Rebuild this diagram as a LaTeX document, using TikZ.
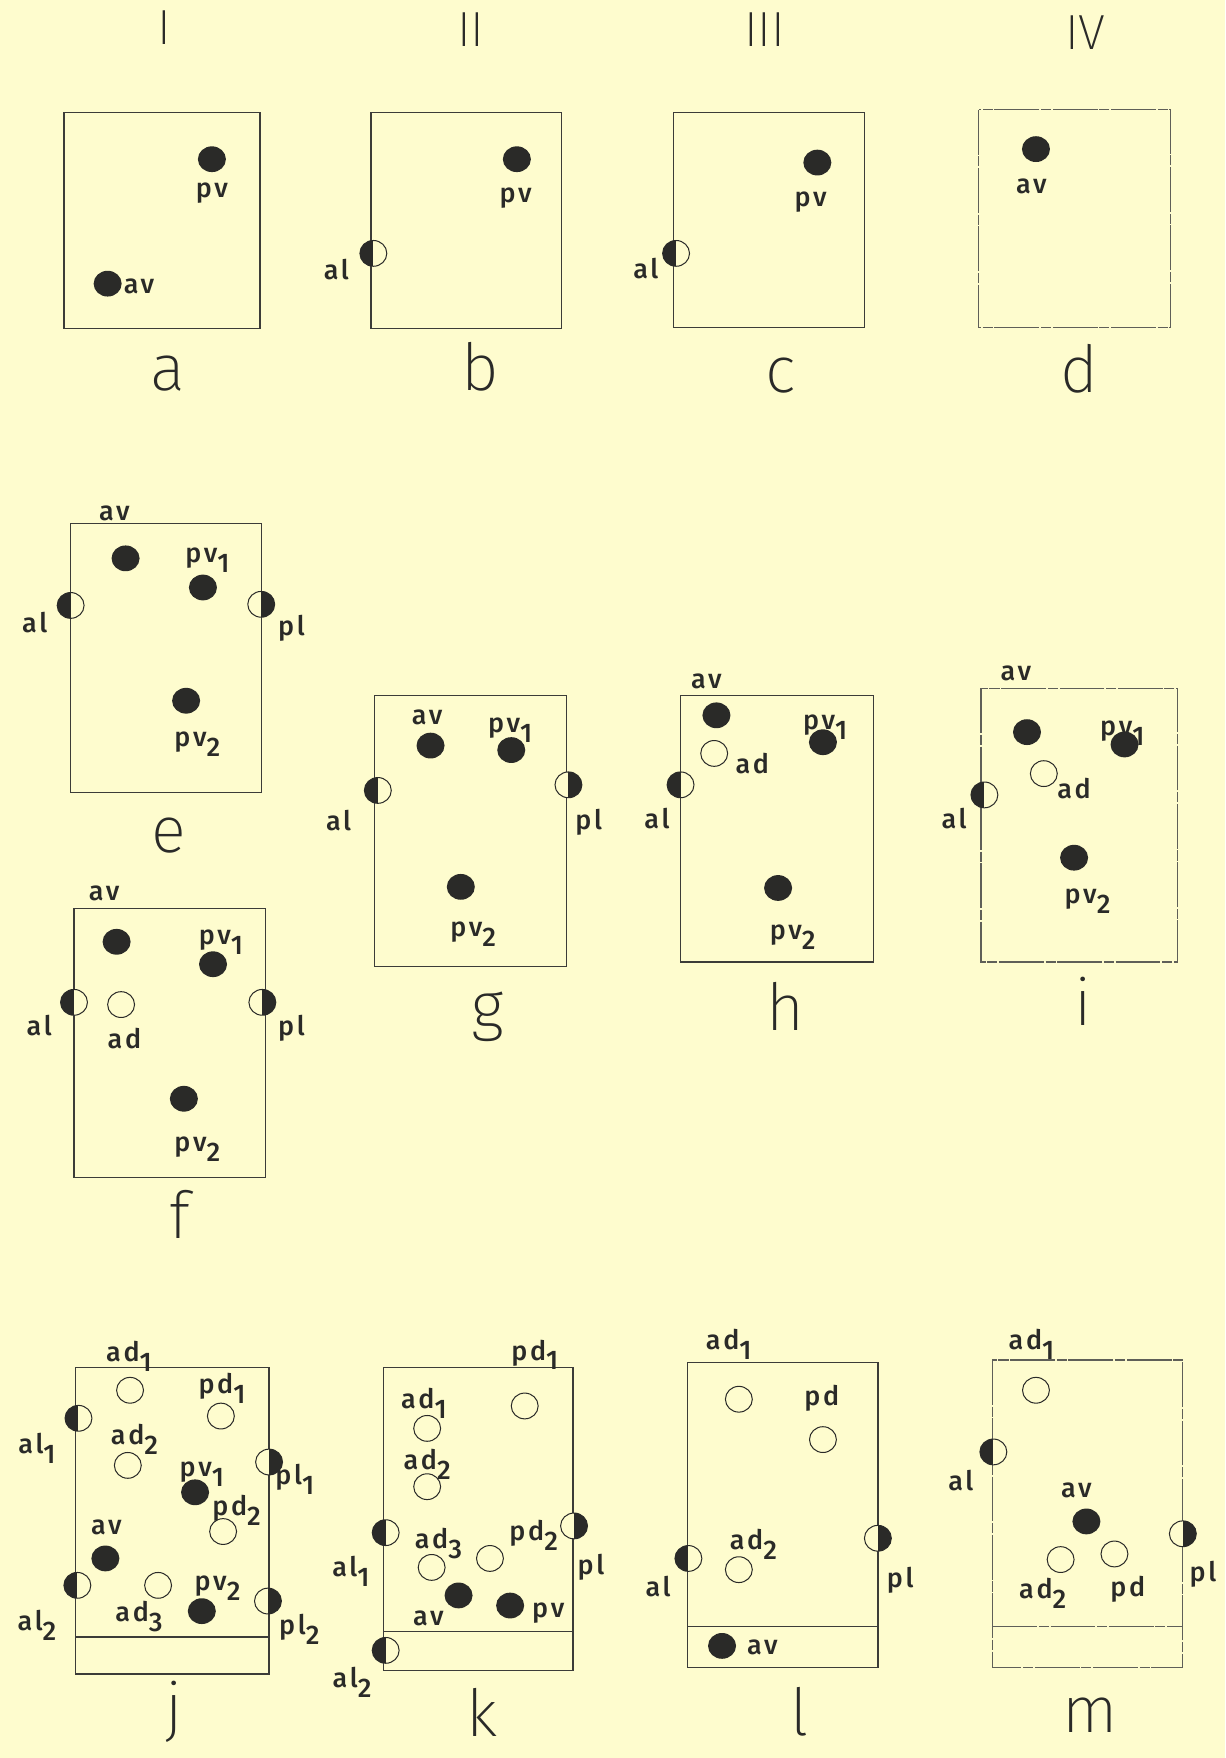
\documentclass[tikz,border=0pt]{standalone}
\usepackage{fontspec}
\usetikzlibrary{shapes.geometric}
% thin lettering for the panel letters and column numerals
\IfFontExistsTF{Fira Sans ExtraLight}
  {\newfontfamily\bigfont{Fira Sans ExtraLight}}
  {\IfFontExistsTF{FiraSans-ExtraLight.otf}
    {\newfontfamily\bigfont{FiraSans-ExtraLight.otf}}
    {\newfontfamily\bigfont{Fira Sans}}}
% slightly heavier lettering for the point labels
\IfFontExistsTF{Fira Sans Medium}
  {\newfontfamily\labfont[LetterSpace=10]{Fira Sans Medium}}
  {\newfontfamily\labfont[LetterSpace=10]{Fira Sans}}
\newcommand\sbs[1]{\raisebox{-0.7ex}{#1}}
\definecolor{bgc}{RGB}{254,252,206}
\definecolor{inkc}{RGB}{42,42,40}
\definecolor{linec}{RGB}{60,60,56}
\definecolor{fadec}{RGB}{95,95,88}
\begin{document}
\begin{tikzpicture}[x=1pt,y=-1pt,
  vdot/.style={ellipse, fill=inkc, inner sep=0pt, minimum width=25pt, minimum height=23pt},
  odot/.style={ellipse, draw=inkc, fill=bgc, line width=0.9pt, inner sep=0pt, minimum width=24pt, minimum height=23pt},
  lhalf/.style={odot, path picture={\fill[inkc] (path picture bounding box.south west) rectangle (path picture bounding box.north);}},
  rhalf/.style={odot, path picture={\fill[inkc] (path picture bounding box.south east) rectangle (path picture bounding box.north);}},
  lbl/.style={font=\labfont\fontsize{24}{26}\selectfont, text=inkc, inner sep=0pt, anchor=base, yshift=-6pt},
  big/.style={font=\bigfont\fontsize{58}{64}\selectfont, text=inkc, inner sep=0pt, anchor=base, yshift=-15pt},
  numeral/.style={font=\bigfont\fontsize{44}{48}\selectfont, text=inkc, inner sep=0pt},
  panel/.style={draw=linec, line width=1.1pt},
  faint/.style={draw=fadec, line width=1pt, dash pattern=on 40pt off 1.5pt on 9pt off 1.5pt}]
\useasboundingbox (0,0) rectangle (1093,1568);
\fill[bgc] (0,0) rectangle (1093,1568);

% column numerals
\node[numeral] (colI)   at (147,25) {I};
\node[numeral] (colII)  at (420,26) {II};
\node[numeral] (colIII) at (682,26) {III};
\node[numeral] (colIV)  at (968,29) {IV};

% ---- a ----
\draw[panel] (57,100) rectangle (232,293);
\node[vdot] (a-pv) at (189,142) {};
\node[lbl]  (a-pvt) at (189,170) {pv};
\node[vdot] (a-av) at (96,253) {};
\node[lbl]  (a-avt) at (124,256) {av};
\node[big]  (a-name) at (150,333) {a};

% ---- b ----
\draw[panel] (331,100) rectangle (501,293);
\node[vdot]  (b-pv) at (461,142) {};
\node[lbl]   (b-pvt) at (460,175) {pv};
\node[lhalf] (b-al) at (333,226) {};
\node[lbl]   (b-alt) at (300,243) {al};
\node[big]   (b-name) at (428,333) {b};

% ---- c ----
\draw[panel] (601,100) rectangle (771,292);
\node[vdot]  (c-pv) at (729,145) {};
\node[lbl]   (c-pvt) at (723,178) {pv};
\node[lhalf] (c-al) at (603,226) {};
\node[lbl]   (c-alt) at (576,242) {al};
\node[big]   (c-name) at (696,335) {c};

% ---- d ----
\draw[faint] (873,98) rectangle (1044,292);
\node[vdot] (d-av) at (924,133) {};
\node[lbl]  (d-avt) at (920,167) {av};
\node[big]  (d-name) at (963,335) {d};

% ---- e ----
\draw[panel] (63,467) rectangle (233,707);
\node[lbl]   (e-avt) at (102,458) {av};
\node[vdot]  (e-av) at (112,498) {};
\node[vdot]  (e-pv1) at (181,524) {};
\node[lbl]   (e-pv1t) at (185,496) {pv\sbs{1}};
\node[lhalf] (e-al) at (63,540) {};
\node[lbl]   (e-alt) at (31,558) {al};
\node[rhalf] (e-pl) at (233,539) {};
\node[lbl]   (e-plt) at (260,561) {pl};
\node[vdot]  (e-pv2) at (166,625) {};
\node[lbl]   (e-pv2t) at (176,660) {pv\sbs{2}};
\node[big]   (e-name) at (151,745) {e};

% ---- f ----
\draw[panel] (66,810) rectangle (237,1050);
\node[lbl]   (f-avt) at (93,797) {av};
\node[vdot]  (f-av) at (104,840) {};
\node[vdot]  (f-pv1) at (190,860) {};
\node[lbl]   (f-pv1t) at (197,836) {pv\sbs{1}};
\node[lhalf] (f-al) at (66,894) {};
\node[lbl]   (f-alt) at (35,918) {al};
\node[odot]  (f-ad) at (108,896) {};
\node[lbl]   (f-adt) at (111,929) {ad};
\node[rhalf] (f-pl) at (234,894) {};
\node[lbl]   (f-plt) at (260,918) {pl};
\node[vdot]  (f-pv2) at (164,980) {};
\node[lbl]   (f-pv2t) at (176,1021) {pv\sbs{2}};
\node[big]   (f-name) at (160,1090) {f};

% ---- g ----
\draw[panel] (334,620) rectangle (505,862);
\node[lbl]   (g-avt) at (381,640) {av};
\node[vdot]  (g-av) at (384,665) {};
\node[vdot]  (g-pv1) at (456,669) {};
\node[lbl]   (g-pv1t) at (455,647) {pv\sbs{1}};
\node[lhalf] (g-al) at (337,705) {};
\node[lbl]   (g-alt) at (302,735) {al};
\node[rhalf] (g-pl) at (507,700) {};
\node[lbl]   (g-plt) at (525,734) {pl};
\node[vdot]  (g-pv2) at (411,791) {};
\node[lbl]   (g-pv2t) at (422,829) {pv\sbs{2}};
\node[big]   (g-name) at (435,902) {g};

% ---- h ----
\draw[panel] (607,620) rectangle (779,858);
\node[lbl]   (h-avt) at (630,608) {av};
\node[vdot]  (h-av) at (639,638) {};
\node[odot]  (h-ad) at (637,672) {};
\node[lbl]   (h-adt) at (671,684) {ad};
\node[vdot]  (h-pv1) at (734,662) {};
\node[lbl]   (h-pv1t) at (736,645) {pv\sbs{1}};
\node[lhalf] (h-al) at (607,700) {};
\node[lbl]   (h-alt) at (586,733) {al};
\node[vdot]  (h-pv2) at (694,792) {};
\node[lbl]   (h-pv2t) at (707,832) {pv\sbs{2}};
\node[big]   (h-name) at (701,904) {h};

% ---- i ----
\draw[faint] (875,614) rectangle (1050,858);
\node[lbl]   (i-avt) at (906,601) {av};
\node[vdot]  (i-av) at (916,653) {};
\node[vdot]  (i-pv1) at (1003,664) {};
\node[lbl]   (i-pv1t) at (1001,650) {pv\sbs{1}};
\node[odot]  (i-ad) at (931,690) {};
\node[lbl]   (i-adt) at (958,706) {ad};
\node[lhalf] (i-al) at (878,709) {};
\node[lbl]   (i-alt) at (851,733) {al};
\node[vdot]  (i-pv2) at (958,765) {};
\node[lbl]   (i-pv2t) at (970,800) {pv\sbs{2}};
\node[big]   (i-name) at (966,900) {i};

% ---- j ----
\draw[panel] (67,1220) rectangle (240,1493);
\draw[panel] (67,1460) -- (240,1460);
\node[lbl]   (j-ad1t) at (115,1208) {ad\sbs{1}};
\node[odot]  (j-ad1) at (116,1240) {};
\node[lbl]   (j-pd1t) at (198,1237) {pd\sbs{1}};
\node[odot]  (j-pd1) at (197,1263) {};
\node[lhalf] (j-al1) at (70,1265) {};
\node[lbl]   (j-al1t) at (33,1290) {al\sbs{1}};
\node[lbl]   (j-ad2t) at (120,1282) {ad\sbs{2}};
\node[odot]  (j-ad2) at (114,1307) {};
\node[rhalf] (j-pl1) at (240,1304) {};
\node[lbl]   (j-pl1t) at (263,1318) {pl\sbs{1}};
\node[vdot]  (j-pv1) at (174,1331) {};
\node[lbl]   (j-pv1t) at (180,1311) {pv\sbs{1}};
\node[lbl]   (j-pd2t) at (211,1346) {pd\sbs{2}};
\node[odot]  (j-pd2) at (199,1366) {};
\node[lbl]   (j-avt) at (95,1363) {av};
\node[vdot]  (j-av) at (94,1390) {};
\node[lhalf] (j-al2) at (69,1414) {};
\node[lbl]   (j-al2t) at (33,1448) {al\sbs{2}};
\node[odot]  (j-ad3) at (141,1414) {};
\node[lbl]   (j-ad3t) at (124,1440) {ad\sbs{3}};
\node[vdot]  (j-pv2) at (180,1437) {};
\node[lbl]   (j-pv2t) at (194,1413) {pv\sbs{2}};
\node[rhalf] (j-pl2) at (239,1428) {};
\node[lbl]   (j-pl2t) at (267,1452) {pl\sbs{2}};
\node[big]   (j-name) at (155,1528) {j};

% ---- k ----
\draw[panel] (342,1220) rectangle (511,1490);
\draw[panel] (342,1455) -- (511,1455);
\node[lbl]   (k-pd1t) at (477,1207) {pd\sbs{1}};
\node[odot]  (k-pd1) at (468,1254) {};
\node[lbl]   (k-ad1t) at (378,1250) {ad\sbs{1}};
\node[odot]  (k-ad1) at (381,1274) {};
\node[lbl]   (k-ad2t) at (381,1305) {ad\sbs{2}};
\node[odot]  (k-ad2) at (381,1326) {};
\node[lhalf] (k-al1) at (344,1367) {};
\node[lbl]   (k-al1t) at (313,1400) {al\sbs{1}};
\node[rhalf] (k-pl) at (512,1361) {};
\node[lbl]   (k-plt) at (527,1398) {pl};
\node[odot]  (k-ad3) at (385,1398) {};
\node[lbl]   (k-ad3t) at (391,1375) {ad\sbs{3}};
\node[odot]  (k-pd2) at (437,1390) {};
\node[lbl]   (k-pd2t) at (476,1368) {pd\sbs{2}};
\node[vdot]  (k-av) at (409,1423) {};
\node[lbl]   (k-avt) at (382,1444) {av};
\node[vdot]  (k-pv) at (455,1432) {};
\node[lbl]   (k-pvt) at (489,1437) {pv};
\node[lhalf] (k-al2) at (344,1472) {};
\node[lbl]   (k-al2t) at (314,1499) {al\sbs{2}};
\node[big]   (k-name) at (430,1534) {k};

% ---- l ----
\draw[panel] (613,1215) rectangle (783,1487);
\draw[panel] (613,1451) -- (783,1451);
\node[lbl]   (l-ad1t) at (650,1198) {ad\sbs{1}};
\node[odot]  (l-ad1) at (659,1248) {};
\node[lbl]   (l-pdt) at (733,1248) {pd};
\node[odot]  (l-pd) at (734,1284) {};
\node[rhalf] (l-pl) at (783,1372) {};
\node[lbl]   (l-plt) at (803,1410) {pl};
\node[lhalf] (l-al) at (614,1390) {};
\node[lbl]   (l-alt) at (587,1418) {al};
\node[lbl]   (l-ad2t) at (672,1376) {ad\sbs{2}};
\node[odot]  (l-ad2) at (659,1400) {};
\node[vdot]  (l-av) at (644,1468) {};
\node[lbl]   (l-avt) at (680,1470) {av};
\node[big]   (l-name) at (713,1533) {l};

% ---- m ----
\draw[faint] (885,1213) rectangle (1055,1487);
\draw[faint] (885,1451) -- (1055,1451);
\node[lbl]   (m-ad1t) at (920,1198) {ad\sbs{1}};
\node[odot]  (m-ad1) at (924,1240) {};
\node[lhalf] (m-al) at (886,1295) {};
\node[lbl]   (m-alt) at (857,1323) {al};
\node[lbl]   (m-avt) at (960,1330) {av};
\node[vdot]  (m-av) at (969,1357) {};
\node[odot]  (m-ad2) at (946,1391) {};
\node[lbl]   (m-ad2t) at (930,1420) {ad\sbs{2}};
\node[odot]  (m-pd) at (994,1386) {};
\node[lbl]   (m-pdt) at (1006,1418) {pd};
\node[rhalf] (m-pl) at (1055,1368) {};
\node[lbl]   (m-plt) at (1073,1405) {pl};
\node[big]   (m-name) at (972,1530) {m};
\end{tikzpicture}
\end{document}
